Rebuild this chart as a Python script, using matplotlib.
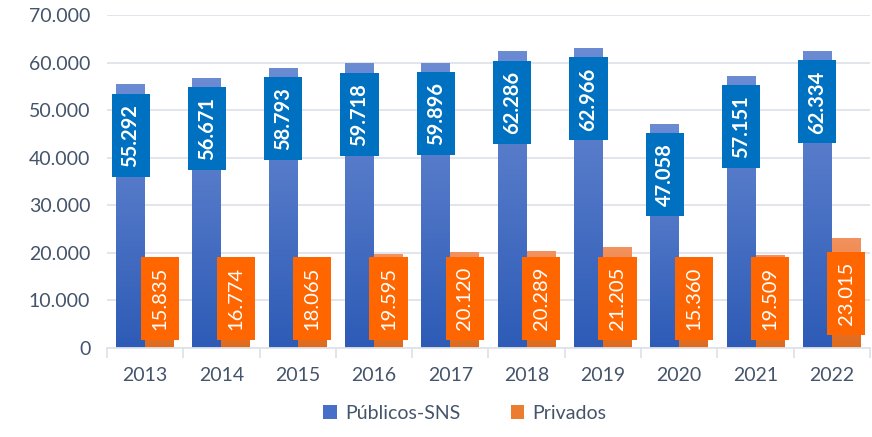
import numpy as np
import matplotlib.pyplot as plt
from matplotlib.colors import LinearSegmentedColormap
from matplotlib.patches import Rectangle, Patch

plt.rcParams['font.family'] = ['Lato', 'DejaVu Sans']

years = ['2013', '2014', '2015', '2016', '2017', '2018', '2019', '2020', '2021', '2022']
publicos = [55292, 56671, 58793, 59718, 59896, 62286, 62966, 47058, 57151, 62334]
privados = [15835, 16774, 18065, 19595, 20120, 20289, 21205, 15360, 19509, 23015]

TXT = '#44546a'
GRID = '#dfe3e9'
BLUE_TOP, BLUE_BOT, BLUE_BOX = '#6b8bd3', '#2d5bb6', '#0070c0'
ORNG_TOP, ORNG_BOT, ORNG_BOX = '#f3925e', '#df6a1c', '#ff6600'

def fmt(v):
    return f'{v:,}'.replace(',', '.')

fig = plt.figure(figsize=(8.72, 4.37), dpi=100)
ax = fig.add_axes([0.1227, 0.2037, 0.875, 0.7620])

x = np.arange(len(years))
w = 0.38
grad = np.linspace(1, 0, 256).reshape(-1, 1)

def gradient_bars(xs, vals, top, bot):
    cmap = LinearSegmentedColormap.from_list('g', [bot, top])
    for xi, v in zip(xs, vals):
        ax.imshow(grad, cmap=cmap, extent=(xi - w / 2, xi + w / 2, 0, v),
                  aspect='auto', zorder=2, interpolation='bilinear')

gradient_bars(x - w / 2, publicos, BLUE_TOP, BLUE_BOT)
gradient_bars(x + w / 2, privados, ORNG_TOP, ORNG_BOT)

# value tags: fixed-size boxes, rotated text
box_w, box_h = 0.50, 17440
def tag(xc, yc, s, color, weight):
    ax.add_patch(Rectangle((xc - box_w / 2, yc - box_h / 2), box_w, box_h,
                           facecolor=color, edgecolor='none', zorder=4))
    ax.text(xc, yc, s, rotation=90, ha='center', va='center', color='white',
            fontsize=14.5, fontweight=weight, zorder=5)

for xi, v in zip(x, publicos):
    tag(xi - w / 2, v - 10600, fmt(v), BLUE_BOX, 'bold')
for xi, v in zip(x, privados):
    tag(xi + w / 2, max(v - 11550, 10500), fmt(v), ORNG_BOX, 'normal')

ax.set_xlim(-0.5, len(years) - 0.5)
ax.set_ylim(0, 70000)
ax.set_yticks(np.arange(0, 70001, 10000))
ax.set_yticklabels([fmt(v) for v in range(0, 70001, 10000)])
ax.yaxis.grid(True, color=GRID, lw=1.3, zorder=0)
ax.set_axisbelow(True)

ax.set_xticks(x)
ax.set_xticklabels(years)
ax.set_xticks(np.arange(-0.5, len(years), 1), minor=True)
ax.tick_params(axis='x', which='major', length=0, pad=14, labelsize=14, labelcolor=TXT)
ax.tick_params(axis='x', which='minor', length=7, width=1.3, color=GRID)
ax.tick_params(axis='y', length=0, pad=12, labelsize=14, labelcolor=TXT)

for side in ('top', 'right', 'left'):
    ax.spines[side].set_visible(False)
ax.spines['bottom'].set_color(GRID)
ax.spines['bottom'].set_linewidth(1.3)

handles = [Patch(facecolor='#4670c8', label='Públicos-SNS'),
           Patch(facecolor='#ec7c30', label='Privados')]
fig.legend(handles=handles, loc='lower center', bbox_to_anchor=(0.533, -0.005), ncol=2,
           frameon=False, fontsize=14, handlelength=0.7, handleheight=0.7,
           handletextpad=0.4, columnspacing=2.6, labelcolor=TXT)

fig.savefig('out.png', dpi=100)
